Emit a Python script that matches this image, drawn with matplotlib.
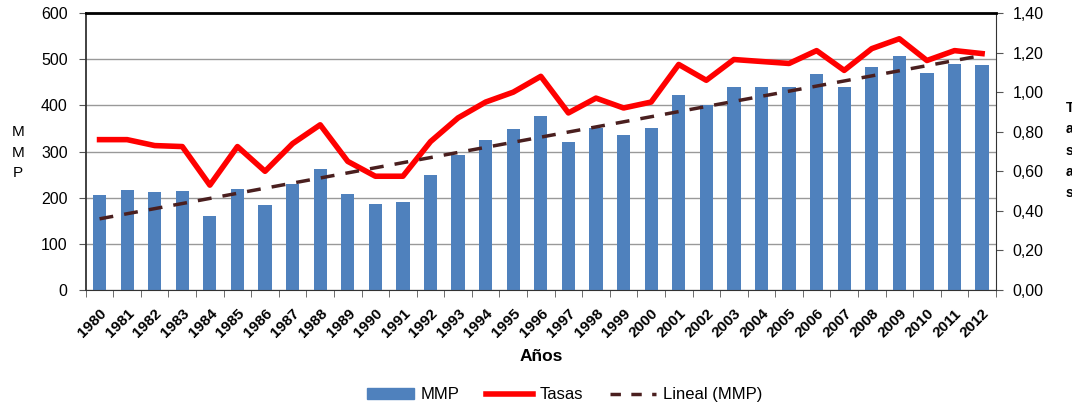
import numpy as np
import matplotlib
matplotlib.use("Agg")
import matplotlib.pyplot as plt
from matplotlib.lines import Line2D
from matplotlib.patches import Patch

plt.rcParams['font.family'] = ['Liberation Sans', 'DejaVu Sans']

# data
years = list(range(1980, 2013))
mmp = [206, 217, 212, 214, 160, 219, 184, 230, 263, 208, 186, 190, 250,
       293, 324, 348, 378, 320, 351, 335, 352, 422, 400, 440, 440, 440,
       468, 440, 482, 506, 471, 490, 488]
tasas = [0.76, 0.76, 0.73, 0.725, 0.53, 0.725, 0.60, 0.74, 0.835, 0.65,
         0.575, 0.575, 0.75, 0.87, 0.95, 1.00, 1.08, 0.895, 0.97, 0.92,
         0.95, 1.14, 1.06, 1.165, 1.155, 1.145, 1.21, 1.11, 1.22, 1.27,
         1.16, 1.21, 1.195]

x = np.arange(len(years))
# linear trend of MMP (Excel "Lineal")
coef = np.polyfit(x, mmp, 1)
trend = np.polyval(coef, x)

fig = plt.figure(figsize=(10.72, 4.07), dpi=100)
ax = fig.add_axes([0.080, 0.2875, 0.849, 0.6805])

ax.bar(x, mmp, width=0.48, color='#4f81bd', zorder=2)
ax.plot(x, trend, color='#4a1f1f', lw=2.5, ls=(0, (4, 3.2)), zorder=4)
ax.set_xlim(-0.5, len(years) - 0.5)
ax.set_ylim(0, 600)
ax.set_yticks(range(0, 601, 100))
ax.yaxis.grid(True, color='#999999', lw=1, zorder=0)
ax.set_axisbelow(True)

ax.set_xticks(x)
ax.set_xticklabels([str(y) for y in years], rotation=45, ha='right',
                   rotation_mode='anchor', fontsize=11, fontweight='bold')
ax.tick_params(axis='x', length=0, pad=12)
ax.set_xticks(np.arange(-0.5, len(years)), minor=True)
ax.tick_params(axis='x', which='minor', length=5, direction='out', color='#555555')
ax.tick_params(axis='y', labelsize=11.5, length=5, pad=8, color='#555555')
ax.set_xlabel('Años', fontsize=12.5, fontweight='bold', labelpad=6)

for s in ['left', 'bottom', 'right']:
    ax.spines[s].set_color('#333333')
ax.spines['left'].set_linewidth(1.3)
ax.spines['top'].set_color('black')
ax.spines['top'].set_linewidth(2)

ax2 = ax.twinx()
ax2.set_ylim(0, 1.4)
ax2.set_yticks(np.arange(0, 1.41, 0.2))
ax2.set_yticklabels([f'{v:.2f}'.replace('.', ',') for v in np.arange(0, 1.41, 0.2)])
ax2.tick_params(axis='y', labelsize=11.5, length=5, pad=7, color='#555555')
for s in ax2.spines.values():
    s.set_visible(False)
ax.set_zorder(ax2.get_zorder() + 1)
ax.patch.set_visible(False)
# red line drawn on the main axes so it sits above the bars, scaled to the right axis
ax.plot(x, np.array(tasas) * 600 / 1.4, color='#ff0000', lw=4, zorder=3)

fig.text(0.017, 0.625, 'M\nM\nP', fontsize=11, ha='center', va='center',
         linespacing=1.6)
fig.text(0.994, 0.63, 'T\na\ns\na\ns', fontsize=10, ha='left', va='center',
         linespacing=1.65, fontweight='bold')

handles = [Patch(color='#4f81bd'),
           Line2D([], [], color='#ff0000', lw=4),
           Line2D([], [], color='#4a1f1f', lw=2.5, ls=(0, (3, 3)))]
fig.legend(handles, ['MMP', 'Tasas', 'Lineal (MMP)'], loc='center',
           bbox_to_anchor=(0.527, 0.03), ncol=3, frameon=False,
           handlelength=2.8, handleheight=0.6, columnspacing=1.6,
           handletextpad=0.4, prop={'size': 12})

fig.savefig('out.png', dpi=100)
